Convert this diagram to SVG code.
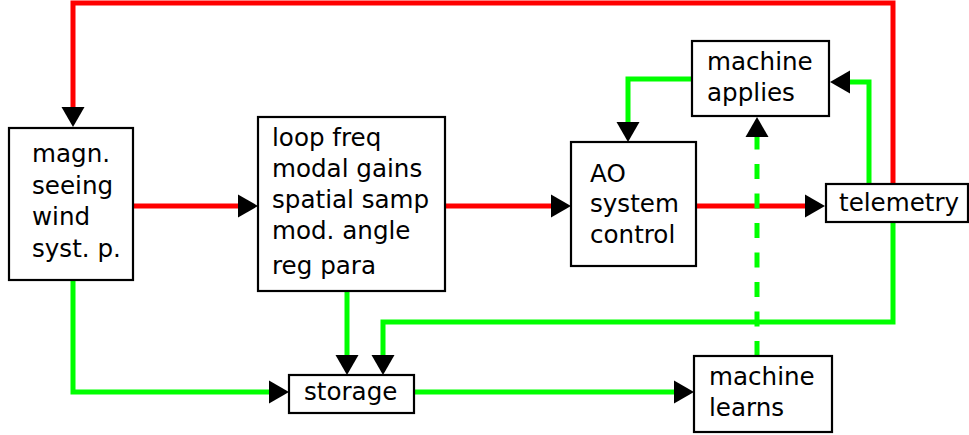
<svg xmlns="http://www.w3.org/2000/svg" width="969" height="435" viewBox="0 0 969 435">
  <style>
    .box { fill: #ffffff; stroke: #000000; stroke-width: 2.2; }
    .lbl { font-family: "DejaVu Sans", Verdana, sans-serif; font-size: 24.6px; fill: #000000; }
    .red { fill: none; stroke: #ff0000; stroke-width: 5; stroke-linejoin: miter; marker-end: url(#head); }
    .green { fill: none; stroke: #00ff00; stroke-width: 5; stroke-linejoin: miter; marker-end: url(#head); }
    .dash { stroke-dasharray: 15 14.5; }
  </style>
  <defs>
    <marker id="head" markerUnits="userSpaceOnUse" markerWidth="21" markerHeight="24" refX="0" refY="11.5" orient="auto" overflow="visible">
      <path d="M0,0 L20,11.5 L0,23 z" fill="#000000"/>
    </marker>
  </defs>

  <rect width="969" height="435" fill="#ffffff"/>

  <g id="connectors">
    <!-- red control path -->
    <path class="red" d="M893,184 V3 H73 V107"/>
    <path class="red" d="M133,206 H238"/>
    <path class="red" d="M445,206 H551"/>
    <path class="red" d="M696,206 H805"/>
    <!-- green data path -->
    <path class="green" d="M73,280 V392 H269"/>
    <path class="green" d="M347,291 V355"/>
    <path class="green" d="M893,222 V322 H383 V355"/>
    <path class="green" d="M414,392 H674"/>
    <path class="green dash" d="M757,356 V137"/>
    <path class="green" d="M869,184 V82 H850"/>
    <path class="green" d="M692,79 H628 V122"/>
  </g>

  <g id="params">
    <rect class="box" x="9" y="128" width="124" height="152"/>
    <text class="lbl" x="32" y="162">magn.</text>
    <text class="lbl" x="32" y="194">seeing</text>
    <text class="lbl" x="32" y="225">wind</text>
    <text class="lbl" x="32" y="257">syst. p.</text>
  </g>

  <g id="settings">
    <rect class="box" x="258" y="117" width="187" height="174"/>
    <text class="lbl" x="272" y="146">loop freq</text>
    <text class="lbl" x="272" y="177">modal gains</text>
    <text class="lbl" x="272" y="208">spatial samp</text>
    <text class="lbl" x="272" y="239">mod. angle</text>
    <text class="lbl" x="272" y="274">reg para</text>
  </g>

  <g id="ao-control">
    <rect class="box" x="571" y="142" width="125" height="124"/>
    <text class="lbl" x="590" y="182">AO</text>
    <text class="lbl" x="590" y="212">system</text>
    <text class="lbl" x="590" y="243">control</text>
  </g>

  <g id="machine-applies">
    <rect class="box" x="692" y="41" width="137" height="75"/>
    <text class="lbl" x="707" y="70">machine</text>
    <text class="lbl" x="707" y="101">applies</text>
  </g>

  <g id="telemetry">
    <rect class="box" x="826" y="184" width="142" height="38"/>
    <text class="lbl" x="839" y="211">telemetry</text>
  </g>

  <g id="storage">
    <rect class="box" x="289" y="375" width="125" height="38"/>
    <text class="lbl" x="304" y="400">storage</text>
  </g>

  <g id="machine-learns">
    <rect class="box" x="694" y="356" width="138" height="76"/>
    <text class="lbl" x="709" y="385">machine</text>
    <text class="lbl" x="709" y="416">learns</text>
  </g>
</svg>
